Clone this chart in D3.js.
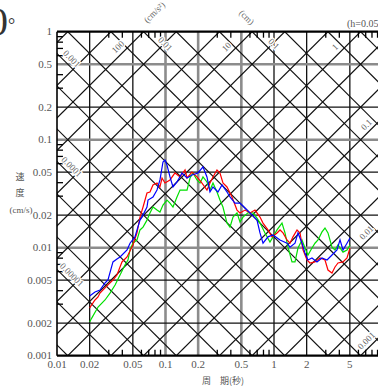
<!DOCTYPE html>
<html><head><meta charset="utf-8">
<script src="https://cdn.jsdelivr.net/npm/d3@7/dist/d3.min.js"></script>
<style>body{margin:0;background:#fff}svg{display:block}</style>
</head><body>
<svg id="c" width="378" height="386"></svg>
<script>
// ---- data ----
const periodTicks = [0.01,0.02,0.05,0.1,0.2,0.5,1,2,5];
const periodTickLabels = ["0.01","0.02","0.05","0.1","0.2","0.5","1","2","5"];
const velTicks = [1,0.5,0.2,0.1,0.05,0.02,0.01,0.005,0.002,0.001];
const velTickLabels = ["1","0.5","0.2","0.1","0.05","0.02","0.01","0.005","0.002","0.001"];
const grayPeriods = [0.1,0.2,0.5];
const grayVels = [0.5,0.1,0.01];
const accelLines = [1e-4,2e-4,5e-4,1e-3,2e-3,5e-3,0.01,0.02,0.05,0.1,0.2,0.5,1,2,5,10,20,50,100,200,500,1000,2000,5000,10000];
const dispLines = [1e-7,2e-7,5e-7,1e-6,2e-6,5e-6,1e-5,2e-5,5e-5,1e-4,2e-4,5e-4,1e-3,2e-3,5e-3,0.01,0.02,0.05,0.1,0.2,0.5,1,2,5,10];
const accelTopLabels = [100,10,1];
const accelRightLabels = [0.1,0.01,0.001];
const dispLeftLabels = [0.001,0.0001,0.00001];
const dispTopLabels = [0.01,0.1];
const fmt = v => ({100:"100",10:"10",1:"1",0.1:"0.1",0.01:"0.01",0.001:"0.001",0.0001:"0.0001",0.00001:"0.00001"})[v];

const blueT = [0.02,0.0224,0.0249,0.0277,0.0295,0.0328,0.0357,0.0381,0.0442,0.0471,0.0523,0.0582,0.0607,0.0675,0.069,0.0767,0.0835,0.0889,0.0948,0.0989,0.1032,0.11,0.1172,0.1276,0.1419,0.1579,0.1754,0.1993,0.2216,0.2411,0.257,0.274,0.3046,0.3316,0.3687,0.3929,0.4372,0.486,0.54,0.601,0.697,0.743,0.792,0.88,0.979,1.136,1.318,1.404,1.562,1.664,1.812,1.93,2.056,2.239,2.49,2.769,3.08,3.424,3.807,4.058,4.325,4.708,5.015];
const blueV = [0.00357,0.00389,0.00406,0.00471,0.00502,0.00738,0.00787,0.0082,0.00953,0.011,0.0126,0.018,0.0192,0.0238,0.0276,0.0295,0.0342,0.0424,0.0622,0.0649,0.0583,0.0452,0.0365,0.0406,0.0492,0.0442,0.0471,0.0492,0.0559,0.0452,0.0328,0.0365,0.0328,0.0381,0.0328,0.0295,0.0259,0.0259,0.0233,0.021,0.018,0.0137,0.011,0.0126,0.0131,0.0118,0.011,0.0101,0.011,0.0137,0.011,0.00893,0.00769,0.00803,0.00738,0.00803,0.00769,0.00855,0.00953,0.0118,0.00953,0.011,0.0123];

const redT = [0.02,0.0224,0.0239,0.0249,0.0295,0.0328,0.0357,0.0397,0.0442,0.0501,0.0546,0.0582,0.0621,0.0675,0.0719,0.0767,0.0835,0.0889,0.0929,0.0989,0.11,0.1223,0.1361,0.1514,0.1579,0.1754,0.195,0.2169,0.2411,0.257,0.274,0.2982,0.3177,0.3385,0.3687,0.41,0.456,0.486,0.54,0.601,0.668,0.743,0.792,0.88,0.959,1.066,1.136,1.211,1.318,1.404,1.496,1.63,1.737,1.85,2.014,2.146,2.386,2.654,2.951,3.144,3.424,3.649,3.889,4.325,4.708,5.015];
const redV = [0.00277,0.00328,0.0035,0.0038,0.00452,0.00502,0.00559,0.00738,0.0082,0.0106,0.0137,0.0192,0.0238,0.0321,0.0328,0.0381,0.0397,0.0365,0.0442,0.0397,0.0424,0.0492,0.0452,0.0525,0.0442,0.0502,0.0452,0.0397,0.0342,0.0397,0.0452,0.0525,0.0492,0.0397,0.0365,0.0295,0.0223,0.021,0.0223,0.021,0.0223,0.0192,0.0169,0.0146,0.0126,0.0137,0.0146,0.0137,0.0118,0.011,0.0126,0.0146,0.0137,0.00953,0.00769,0.00722,0.00738,0.00803,0.00769,0.00621,0.00583,0.00663,0.00722,0.00738,0.00803,0.00993];

const greenT = [0.02,0.0209,0.0239,0.0277,0.0308,0.0343,0.0381,0.0423,0.0451,0.0471,0.0501,0.0546,0.0582,0.0621,0.0675,0.0719,0.0767,0.0835,0.0889,0.0948,0.1032,0.11,0.1172,0.1276,0.1361,0.1449,0.1579,0.1683,0.1791,0.195,0.208,0.2216,0.2411,0.257,0.274,0.2982,0.3177,0.3385,0.3687,0.3929,0.419,0.456,0.486,0.518,0.576,0.64,0.697,0.743,0.826,0.918,0.979,1.066,1.185,1.263,1.346,1.465,1.562,1.664,1.812,1.93,2.056,2.239,2.386,2.544,2.769,2.951,3.144,3.424,3.649,3.889,4.325,4.708,5.015];
const greenV = [0.00205,0.00223,0.00282,0.00328,0.0038,0.00452,0.00559,0.00692,0.00769,0.00953,0.011,0.0118,0.0146,0.0155,0.018,0.021,0.0238,0.0223,0.0214,0.0248,0.0276,0.0259,0.0238,0.0295,0.0342,0.0342,0.0342,0.0442,0.0492,0.0424,0.0397,0.0452,0.0406,0.0342,0.0397,0.0328,0.0276,0.0238,0.0169,0.0155,0.0192,0.021,0.0173,0.0192,0.021,0.021,0.0188,0.0169,0.0137,0.0113,0.0126,0.0146,0.0169,0.0137,0.0101,0.00738,0.00738,0.00993,0.0118,0.00993,0.00855,0.00993,0.011,0.0118,0.014,0.0152,0.0137,0.0101,0.00953,0.0106,0.0091,0.00953,0.0106];

const series = [
  {name:"green", color:"#00e000", T:greenT, V:greenV},
  {name:"red", color:"#ff0000", T:redT, V:redV},
  {name:"blue", color:"#0000ff", T:blueT, V:blueV}
];

// ---- chart ----
const svg = d3.select("#c");
const L = 57, R = 382.5, TOP = 31.7, BOT = 355.7;
const x = d3.scaleLog().domain([0.01,10]).range([L,R]);
const y = d3.scaleLog().domain([0.001,1]).range([BOT,TOP]);
const TW = 2*Math.PI;
const serif = "'Liberation Serif','Times New Roman',serif";
const cjk = "'Noto Sans CJK JP','Noto Sans CJK SC',sans-serif";

svg.append("defs").append("clipPath").attr("id","pc")
  .append("rect").attr("x",L).attr("y",TOP).attr("width",R-L).attr("height",BOT-TOP);

const g = svg.append("g").attr("clip-path","url(#pc)");

const vGrid = periodTicks.filter(t=>t>0.01);
const hGrid = velTicks.filter(v=>v<1 && v>0.001);
g.selectAll(".vg").data(vGrid).enter().append("line")
  .attr("x1",d=>x(d)).attr("x2",d=>x(d)).attr("y1",TOP).attr("y2",BOT)
  .attr("stroke",d=>grayPeriods.includes(d)?"#8c8c8c":"#111")
  .attr("stroke-width",d=>grayPeriods.includes(d)?2.6:1.3);
g.selectAll(".hg").data(hGrid).enter().append("line")
  .attr("y1",d=>y(d)).attr("y2",d=>y(d)).attr("x1",L).attr("x2",R)
  .attr("stroke",d=>grayVels.includes(d)?"#8c8c8c":"#111")
  .attr("stroke-width",d=>grayVels.includes(d)?2.6:1.3);

// diagonal lines (acceleration ascending, displacement descending)
const Tlo = 0.001, Thi = 100;
g.selectAll(".acc").data(accelLines).enter().append("line")
  .attr("x1",x(Tlo)).attr("y1",d=>y(d*Tlo/TW)).attr("x2",x(Thi)).attr("y2",d=>y(d*Thi/TW))
  .attr("stroke","#111").attr("stroke-width",1.2);
g.selectAll(".dis").data(dispLines).enter().append("line")
  .attr("x1",x(Tlo)).attr("y1",d=>y(TW*d/Tlo)).attr("x2",x(Thi)).attr("y2",d=>y(TW*d/Thi))
  .attr("stroke","#111").attr("stroke-width",1.2);

// curves
const line = d3.line().x(d=>x(d[0])).y(d=>y(d[1]));
series.forEach(s=>{
  g.append("path").datum(s.T.map((t,i)=>[t,s.V[i]]))
    .attr("d",line).attr("fill","none").attr("stroke",s.color).attr("stroke-width",1.2);
});

// frame
svg.append("line").attr("x1",L).attr("x2",R).attr("y1",TOP).attr("y2",TOP).attr("stroke","#000").attr("stroke-width",2.2);
svg.append("line").attr("x1",L).attr("x2",R).attr("y1",BOT).attr("y2",BOT).attr("stroke","#000").attr("stroke-width",2.2);
svg.append("line").attr("x1",L).attr("x2",L).attr("y1",TOP).attr("y2",BOT).attr("stroke","#000").attr("stroke-width",1.6);

// minor ticks
const minors = [];
[0.01,0.1,1].forEach(d=>[3,4,6,7,8,9].forEach(m=>minors.push(d*m)));
const vminors = [];
[0.001,0.01,0.1].forEach(d=>[3,4,6,7,8,9].forEach(m=>vminors.push(d*m)));
svg.selectAll(".tt").data(minors).enter().append("line")
  .attr("x1",d=>x(d)).attr("x2",d=>x(d)).attr("y1",TOP).attr("y2",TOP+6).attr("stroke","#000").attr("stroke-width",1.3);
svg.selectAll(".bt").data(minors).enter().append("line")
  .attr("x1",d=>x(d)).attr("x2",d=>x(d)).attr("y1",BOT).attr("y2",BOT-6).attr("stroke","#000").attr("stroke-width",1.3);
svg.selectAll(".lt").data(vminors).enter().append("line")
  .attr("y1",d=>y(d)).attr("y2",d=>y(d)).attr("x1",L).attr("x2",L+6).attr("stroke","#000").attr("stroke-width",1.3);

// tick labels
svg.selectAll(".xl").data(periodTicks).enter().append("text")
  .attr("x",d=>x(d)).attr("y",BOT+12).attr("text-anchor","middle")
  .attr("font-family",serif).attr("font-size",11).attr("fill","#555")
  .text((d,i)=>periodTickLabels[i]);
svg.selectAll(".yl").data(velTicks).enter().append("text")
  .attr("x",L-5).attr("y",d=>y(d)+3.5).attr("text-anchor","end")
  .attr("font-family",serif).attr("font-size",11).attr("fill","#555")
  .text((d,i)=>velTickLabels[i]);

// diagonal labels
const lab = (px,py,rot,txt)=>svg.append("text").attr("transform",`translate(${px},${py}) rotate(${rot})`)
  .attr("text-anchor","middle").attr("dominant-baseline","middle")
  .attr("font-family",serif).attr("font-size",9).attr("fill","#666")
  .attr("stroke","#fff").attr("stroke-width",2.5).attr("paint-order","stroke").text(txt);
accelTopLabels.forEach(a=>{
  const lx = x(TW/a)-25, t = x.invert(lx);
  lab(lx, y(a*t/TW)-9, -45, fmt(a));
});
accelRightLabels.forEach(a=>{
  const lx = 367, t = x.invert(lx);
  lab(lx, y(a*t/TW)-8, -45, fmt(a));
});
dispLeftLabels.forEach(dv=>{
  const lx = 71, t = x.invert(lx);
  lab(lx, y(TW*dv/t)-8, 45, fmt(dv));
});
dispTopLabels.forEach(dv=>{
  const lx = x(TW*dv)+21, t = x.invert(lx);
  lab(lx, y(TW*dv/t)-8, 45, fmt(dv));
});
lab(L+98, 13, -45, "(cm/s²)");
lab(L+189, 18, 45, "(cm)");

// titles
svg.append("text").attr("x",-12).attr("y",35).attr("font-family",serif).attr("font-size",40).attr("fill","#333").text("0");
svg.append("text").attr("x",8).attr("y",31).attr("font-family",serif).attr("font-size",18).attr("fill","#333").text("°");
svg.append("text").attr("x",347).attr("y",27).attr("font-family",serif).attr("font-size",10).attr("fill","#555").text("(h=0.05)");
svg.append("text").attr("x",20).attr("y",180).attr("text-anchor","middle").attr("font-family",cjk).attr("font-size",9).attr("fill","#555").text("速");
svg.append("text").attr("x",20).attr("y",196).attr("text-anchor","middle").attr("font-family",cjk).attr("font-size",9).attr("fill","#555").text("度");
svg.append("text").attr("x",21).attr("y",213).attr("text-anchor","middle").attr("font-family",serif).attr("font-size",9).attr("fill","#555").text("(cm/s)");
svg.append("text").attr("x",202).attr("y",384).attr("font-family",cjk).attr("font-size",9).attr("fill","#555").text("周　期(秒)");
</script>
</body></html>
